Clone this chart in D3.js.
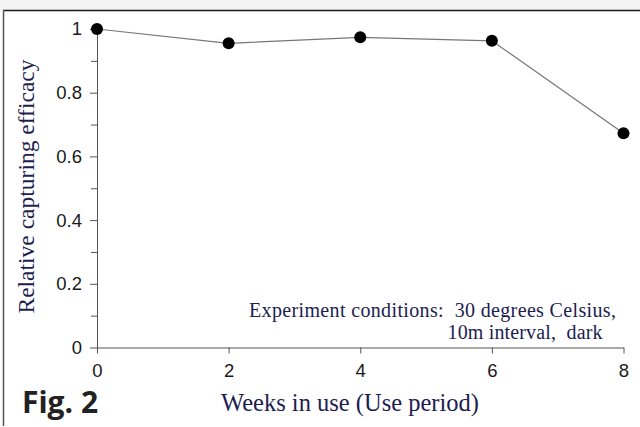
<!DOCTYPE html>
<html><head><meta charset="utf-8">
<script src="https://cdn.jsdelivr.net/npm/d3@7"></script>
<style>body{margin:0;background:#fff}svg{display:block}</style>
</head><body>
<svg id="c" width="640" height="427"></svg>
<script>
const weeks = [0, 2, 4, 6, 8];
const efficacy = [1.0, 0.955, 0.974, 0.963, 0.673];
const xTicks = [0, 2, 4, 6, 8];
const yTicks = [0, 0.2, 0.4, 0.6, 0.8, 1];
const yMinorTicks = [0.1, 0.3, 0.5, 0.7, 0.9];
const xTitle = "Weeks in use (Use period)";
const yTitle = "Relative capturing efficacy";
const noteLines = ["Experiment conditions:  30 degrees Celsius,", "10m interval,  dark"];
const figLabel = "Fig. 2";

const svg = d3.select("#c");
const navy = "#1d1d50";
const serif = "'Liberation Serif', 'Times New Roman', serif";
// frame
svg.append("rect").attr("x",0).attr("y",0).attr("width",640).attr("height",10).attr("fill","#f4f4f4");
svg.append("line").attr("x1",3).attr("x2",640).attr("y1",10.5).attr("y2",10.5).attr("stroke","#1a1a1a").attr("stroke-width",1.5);
svg.append("line").attr("x1",3.5).attr("x2",3.5).attr("y1",10).attr("y2",426).attr("stroke","#555").attr("stroke-width",1.5);

const x = d3.scaleLinear().domain([0,8]).range([97,623.5]);
const y = d3.scaleLinear().domain([0,1]).range([347.5,29]);

svg.append("g").attr("transform","translate(0,347.5)")
  .call(d3.axisBottom(x).tickValues(xTicks).tickFormat(d3.format("d")).tickSizeOuter(0).tickSizeInner(6).tickPadding(10));
svg.append("g").attr("transform","translate(97,0)")
  .call(d3.axisLeft(y).tickValues(yTicks).tickFormat(d => d===0||d===1 ? d3.format("d")(d) : d3.format(".1f")(d)).tickSizeOuter(0).tickSizeInner(7).tickPadding(8));
svg.append("g").attr("transform","translate(97,0)")
  .call(d3.axisLeft(y).tickValues(yMinorTicks).tickFormat("").tickSizeOuter(0).tickSizeInner(6))
  .select(".domain").remove();
svg.selectAll(".domain, .tick line").attr("stroke","#555");
svg.selectAll(".tick text").attr("font-family","'Liberation Sans', Arial, sans-serif").attr("font-size",18.5).attr("fill","#1a1a1a");

// line
const pts = weeks.map((w,i)=>[w, efficacy[i]]);
svg.append("path").datum(pts)
  .attr("d", d3.line().x(d=>x(d[0])).y(d=>y(d[1])))
  .attr("fill","none").attr("stroke","#777").attr("stroke-width",1.2);
svg.selectAll("circle.pt").data(pts).join("circle").attr("class","pt")
  .attr("cx",d=>x(d[0])).attr("cy",d=>y(d[1])).attr("r",6).attr("fill","#000");

// titles
svg.append("text").attr("transform","translate(33.5,186.5) rotate(-90)").attr("text-anchor","middle")
  .attr("font-family",serif).attr("font-size",23.5).attr("fill",navy).text(yTitle);
svg.append("text").attr("x",350).attr("y",411).attr("text-anchor","middle")
  .attr("font-family",serif).attr("font-size",24.5).attr("fill",navy).text(xTitle);
svg.append("text").attr("x",249).attr("y",317).style("white-space","pre")
  .attr("font-family",serif).attr("font-size",20).attr("fill",navy)
  .attr("textLength",367).attr("lengthAdjust","spacing").text(noteLines[0]);
svg.append("text").attr("x",447.5).attr("y",339).style("white-space","pre")
  .attr("font-family",serif).attr("font-size",20).attr("fill",navy)
  .attr("textLength",155).attr("lengthAdjust","spacing").text(noteLines[1]);
svg.append("text").attr("x",22).attr("y",413)
  .attr("font-family","'Open Sans', sans-serif").attr("font-weight",700).attr("font-size",30).attr("fill","#222").text(figLabel);
</script>
</body></html>
